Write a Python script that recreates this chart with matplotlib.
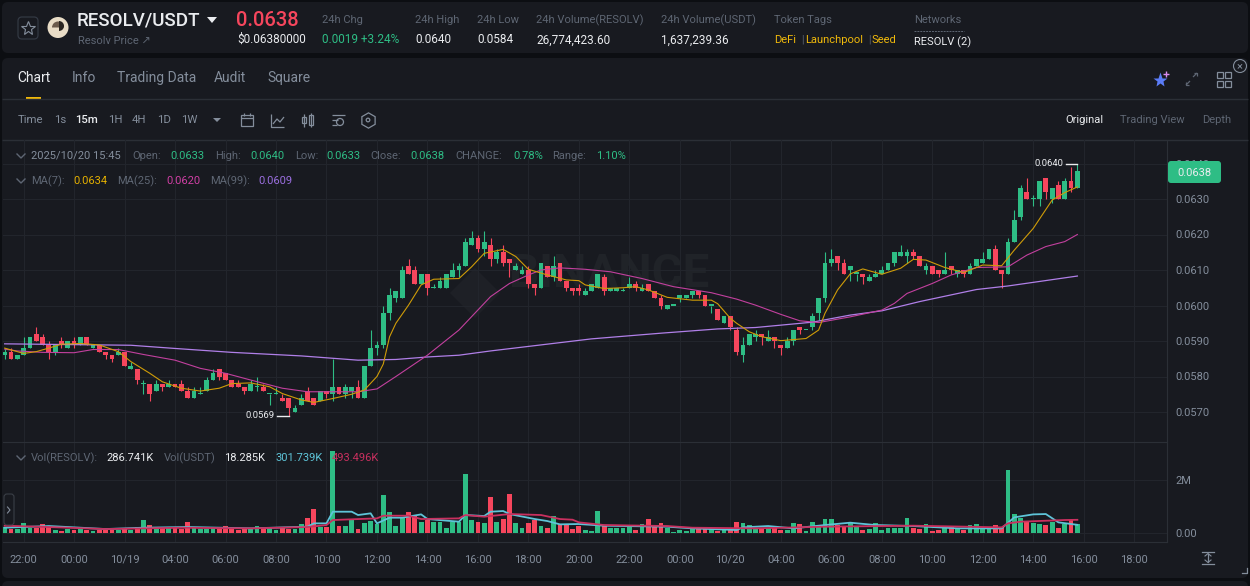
import numpy as np
import matplotlib
matplotlib.use("Agg")
import matplotlib.pyplot as plt
from matplotlib.patches import FancyBboxPatch, Rectangle, Circle, Polygon, Wedge

plt.rcParams['font.family'] = ['Roboto', 'DejaVu Sans']

# candles, price in units of 0.0001
opens = [586,587,585,586,588,592,591,589,587,590,588,590,589,591,588,589,587,586,586,587,
         582,582,578,578,576,578,577,578,578,576,574,575,576,579,582,581,579,578,577,576,
         577,577,575,575,574,574,570,572,576,574,573,576,575,577,575,576,577,574,583,588,
         589,598,602,602,611,610,606,609,605,605,605,608,610,611,617,619,616,617,613,615,
         613,610,609,610,606,605,611,608,612,607,605,605,603,604,605,608,604,604,604,605,
         606,604,606,604,602,599,600,602,602,603,604,603,600,599,595,597,593,586,589,591,
         592,590,591,589,588,590,594,593,594,598,602,612,614,612,610,609,609,607,608,609,
         610,612,614,614,615,614,610,611,610,609,611,609,610,609,611,612,613,616,610,609,
         618,625,632,630,630,636,630,634,630,635,633]
highs = [588,588,586,591,591,594,592,590,589,591,590,591,591,591,589,589,587,586,588,587,
         584,582,579,578,579,578,579,578,579,577,577,577,580,582,582,581,579,579,577,579,
         580,578,575,577,575,574,572,575,577,574,576,576,585,577,578,577,579,583,593,590,
         600,605,604,611,613,611,609,609,606,608,609,612,612,619,621,620,621,619,616,617,
         613,612,611,611,606,612,611,614,612,607,605,606,605,606,609,609,605,605,605,608,
         607,606,606,604,603,600,600,603,603,604,604,603,600,599,597,597,594,591,592,593,
         592,593,591,589,591,593,594,593,598,602,615,616,614,613,611,609,609,609,610,611,
         612,615,617,616,616,614,612,611,610,615,611,610,610,612,613,615,616,617,610,619,
         627,634,636,631,635,636,633,635,636,639,640]
lows = [585,585,585,586,588,590,589,585,586,588,588,588,589,589,588,587,585,584,586,583,
        582,578,575,573,576,576,577,577,576,574,574,575,576,579,579,579,577,577,575,576,
        576,576,572,575,573,569,570,572,573,572,573,574,573,575,574,574,574,574,583,586,
        588,596,601,602,609,606,606,603,605,605,605,608,608,611,617,615,614,611,612,611,
        608,610,609,605,603,605,608,607,607,604,603,603,603,604,605,603,604,604,604,605,
        604,604,604,602,599,599,600,601,602,602,602,600,598,596,595,593,586,584,589,590,
        589,590,588,586,588,589,592,593,593,596,601,611,610,609,607,607,606,607,608,609,
        610,611,614,612,613,611,609,609,608,609,609,608,608,609,611,612,613,610,605,609,
        618,624,630,628,628,630,629,630,630,632,633]
closes = [587,585,586,588,591,590,589,587,589,589,590,589,591,589,589,587,586,585,587,583,
          583,579,578,575,578,577,578,577,576,574,576,575,579,581,580,579,577,577,576,578,
          577,576,575,575,573,571,571,574,573,572,576,575,577,575,577,577,574,583,588,589,
          598,603,604,610,609,606,609,605,605,607,609,610,611,618,619,616,618,613,615,612,
          612,611,610,606,605,612,608,611,607,605,604,604,604,606,609,604,605,605,604,606,
          605,605,604,602,600,600,600,603,603,604,603,600,600,596,597,594,587,589,592,592,
          591,591,590,588,590,593,593,593,597,602,612,613,612,609,611,609,608,608,609,610,
          612,615,615,615,614,611,611,609,609,610,610,610,609,611,613,613,616,610,609,618,
          624,633,630,630,635,632,633,630,635,633,638]

# 15m volume per candle, thousands
volumes = [230,140,140,383,166,191,332,230,102,64,140,102,140,102,64,102,102,102,102,191,
           102,204,472,293,140,166,166,166,140,421,166,140,140,166,140,255,140,102,140,140,
           255,191,166,115,166,140,140,319,574,893,217,217,3124,242,255,472,140,357,446,319,
           1441,778,255,574,778,650,395,485,408,421,191,395,395,2244,485,421,383,1352,395,523,
           1492,357,166,357,485,255,191,638,319,319,140,255,102,77,829,255,166,166,166,230,
           115,319,523,217,370,191,38,102,77,166,140,140,128,77,128,140,395,370,293,166,
           191,191,166,115,115,370,319,77,421,204,510,510,293,255,357,230,102,140,357,115,
           166,166,191,574,191,140,319,77,115,166,255,140,89,293,319,166,166,293,217,2397,
           701,548,446,383,344,293,421,191,319,485,332]

# moving averages: candle number and value
ma7_idx = [0,3,5,7,9,12,15,18,20,23,25,28,31,34,36,39,42,44,47,49,52,55,57,59,60,61,62,64,66,68,
           72,74,76,79,81,83,86,89,91,92,95,98,100,102,105,109,112,113,115,116,118,120,123,
           127,129,130,132,134,136,139,142,144,146,149,152,155,158,160,163,166,168,170]
ma7_val = [588,586.5,587,588,589.1,589.3,588.9,587,584.2,580.9,578.5,576.7,575.9,576.7,578,578.2,
           577.1,575.2,573.4,572.7,573.8,575,576.2,580,583.5,591.2,595,600.1,605.8,607.4,
           607.6,610.9,614.7,615.8,613.8,610.2,608.6,607.2,607,605.8,604.8,605,605.3,604.4,
           602.3,601.5,601.5,600.5,596.4,595,592.6,591.2,590.1,590.7,593.1,597.8,604.4,608.9,
           610.3,608.8,610.5,613,612.8,610.7,609.3,611.4,611.2,615.6,621.7,629.7,631.8,633.4]
ma25_idx = [0,2,6,11,14,18,22,27,31,35,39,44,48,52,56,59,62,67,72,77,80,83,85,88,92,96,101,106,
            112,116,119,123,126,129,134,139,141,143,147,150,154,159,162,165,168,170]
ma25_val = [587.7,587.2,586.8,586.7,587.6,587.6,586.2,584.6,582.3,580.9,579,576.7,575.7,575.7,
            575.7,576.5,580,586,593.1,602.5,606.2,608.6,610,610.6,610.2,609.5,607.6,605.3,
            603.6,601.8,600.1,597.5,595.7,595.2,596.8,598.7,600.6,603.4,606.2,608.6,610.7,
            610.9,614.2,616.6,618,620]
ma99_idx = [0,10,20,27,36,47,56,62,67,72,77,85,93,104,113,119,128,134,139,145,154,159,170]
ma99_val = [589.2,589,588.8,587.9,586.8,585.8,584.6,584.8,585.5,586,587.2,588.9,590.6,592.2,593.4,
            593.8,595.3,597.3,598.5,601.1,604.5,605.5,608.3]

vol_ma1_idx = [0,7,16,22,29,39,48,49,51,52,55,56,58,59,61,63,66,67,72,73,76,77,79,80,84,86,88,91,95,
               105,109,116,117,121,125,130,134,138,144,151,158,160,163,165,167,170]
vol_ma1_val = [191,255,140,191,217,166,230,357,357,803,803,676,740,357,574,574,701,523,421,676,638,
               803,829,714,523,446,319,332,268,230,166,102,204,255,166,293,383,293,255,166,166,
               587,701,714,395,302]
vol_ma2_idx = [0,7,16,28,39,48,51,52,59,60,64,66,72,73,76,80,85,88,90,91,95,105,109,119,130,144,158,
               159,161,168,170]
vol_ma2_val = [268,217,140,191,166,217,293,485,548,650,650,523,548,676,612,714,676,523,497,395,293,
               255,191,166,230,268,204,357,421,485,493]

price_ticks = [640, 630, 620, 610, 600, 590, 580, 570]
vol_ticks = [0, 2000]
time_labels = ['22:00','00:00','10/19','04:00','06:00','08:00','10:00','12:00','14:00','16:00','18:00',
               '20:00','22:00','00:00','10/20','04:00','06:00','08:00','10:00','12:00','14:00','16:00','18:00']

tabs = [(17,'Chart','#eaecef'),(72,'Info','#848e9c'),(117,'Trading Data','#848e9c'),(214,'Audit','#848e9c'),(267,'Square','#848e9c')]
intervals = [(18,'Time','#848e9c'),(54,'1s','#848e9c'),(75,'15m','#eaecef'),(108,'1H','#848e9c'),(132,'4H','#848e9c'),(157,'1D','#848e9c'),(181,'1W','#848e9c')]

W, H = 1250, 586
BG = '#0c0e12'
PANEL = '#181a20'
GRID = '#22252c'
GREY = '#848e9c'
DIM = '#5e6673'
WHITE = '#eaecef'
GREEN = '#2ebd85'
RED = '#f6465d'
YELLOW = '#f0b90b'

fig = plt.figure(figsize=(W/100, H/100), dpi=100, facecolor=BG)


def px_axes(x0, y0, x1, y1):
    return fig.add_axes([x0/W, 1-y1/H, (x1-x0)/W, (y1-y0)/H])


ui = px_axes(0, 0, W, H)
ui.set_xlim(0, W)
ui.set_ylim(H, 0)
ui.axis('off')

top = px_axes(0, 0, W, H)
top.set_xlim(0, W)
top.set_ylim(H, 0)
top.axis('off')
top.patch.set_alpha(0)
top.set_zorder(10)


def t(x, y, s, c=GREY, size=8, **kw):
    kw.setdefault('va', 'center')
    top.text(x, y+0.8, s, color=c, fontsize=size, **kw)


def panel(x0, y0, x1, y1):
    ui.add_patch(FancyBboxPatch((x0+5, y0+5), x1-x0-10, y1-y0-10, boxstyle='round,pad=5,rounding_size=6',
                                fc=PANEL, ec='none'))


def seg(xs, ys, c=GREY, lw=0.9):
    ui.plot(xs, ys, color=c, lw=lw, solid_capstyle='butt')


panel(2, 2, 1248, 53)
panel(2, 58, 1248, 578)
panel(2, 581, 1248, 600)

# top bar
ui.add_patch(FancyBboxPatch((18, 17), 20, 22, boxstyle='round,pad=0,rounding_size=4', fc='none', ec='#333943', lw=0.9))
ui.plot([28], [28], marker='*', ms=10, mfc='none', mec=GREY, mew=0.8)
ui.add_patch(Circle((58, 27.5), 10.5, fc='#e8dcc6', ec='none'))
ui.add_patch(Wedge((58, 27.5), 6, 180, 360, fc='#6b5a4c', ec='none'))
ui.add_patch(Wedge((59, 26), 5, 270, 90, fc='#2a2520', ec='none'))
t(77, 20, 'RESOLV/USDT', WHITE, 13.5, fontweight='medium')
ui.add_patch(Polygon([[207, 17], [217, 17], [212, 23]], fc=WHITE, ec='none'))
t(78, 40, 'Resolv Price \u2197', DIM, 8)
t(236, 20, '0.0638', RED, 14.5, fontweight='medium')
t(237, 39, '$0.06380000', WHITE, 8.5)
t(322, 19, '24h Chg', DIM, 8)
t(322, 39, '0.0019 +3.24%', GREEN, 8.5)
t(415, 19, '24h High', DIM, 8)
t(415, 39, '0.0640', WHITE, 8.5)
t(477, 19, '24h Low', DIM, 8)
t(477, 39, '0.0584', WHITE, 8.5)
t(536, 19, '24h Volume(RESOLV)', DIM, 8)
t(536, 39, '26,774,423.60', WHITE, 8.5)
t(661, 19, '24h Volume(USDT)', DIM, 8)
t(661, 39, '1,637,239.36', WHITE, 8.5)
t(774, 19, 'Token Tags', DIM, 8)
t(774, 39, 'DeFi', YELLOW, 8)
t(801, 39, '|', DIM, 7)
t(805, 39, 'Launchpool', YELLOW, 8)
t(868, 39, '|', DIM, 7)
t(872, 39, 'Seed', YELLOW, 8)
t(914, 19, 'Networks', DIM, 8)
ui.plot([914, 964], [31, 31], color=DIM, lw=0.7, ls=(0, (2, 1)))
t(914, 41, 'RESOLV (2)', WHITE, 8)

# tabs
for x, label, c in tabs:
    t(x, 77, label, c, 10)
ui.add_patch(Rectangle((26, 96.5), 15, 2.5, fc=YELLOW, ec='none'))
seg([2, 1248], [99, 99], '#2b2f36', 1)
seg([2, 1248], [139.5, 139.5], '#2b2f36', 1)

# interval toolbar
for x, label, c in intervals:
    t(x, 119, label, c, 8.2, fontweight='medium' if label == '15m' else 'normal')
ui.add_patch(Polygon([[213, 118], [221, 118], [217, 122]], fc=GREY, ec='none'))
ui.add_patch(Rectangle((241, 115), 12, 11, fc='none', ec=GREY, lw=0.9))
seg([241, 253], [118, 118])
seg([244, 244], [113, 116])
seg([250, 250], [113, 116])
seg([271, 271, 284], [114, 127, 127])
seg([273, 277, 280, 284], [124, 119, 122, 117])
ui.add_patch(Rectangle((302, 117), 4, 6, fc='none', ec=GREY, lw=0.9))
ui.add_patch(Rectangle((309, 115), 4, 10, fc='none', ec=GREY, lw=0.9))
seg([304, 304], [114, 127])
seg([311, 311], [113, 127])
seg([332, 345], [115, 115])
seg([332, 338], [120, 120])
seg([332, 337], [125, 125])
ui.add_patch(Circle((340, 122), 3.5, fc='none', ec=GREY, lw=0.9))
ui.plot([368], [120], marker='h', ms=11, mfc='none', mec=GREY, mew=0.9)
ui.add_patch(Circle((368, 120), 1.8, fc='none', ec=GREY, lw=0.9))
t(1065, 119, 'Original', WHITE, 8)
t(1120, 119, 'Trading View', DIM, 8)
t(1202, 119, 'Depth', DIM, 8)

# top right icons
ui.plot([1160], [80], marker='*', ms=11, color='#5b7cf7', mec='none')
ui.plot([1166], [74], marker='+', ms=4, color='#d98cf0', mew=1)
seg([1186, 1190], [85, 81], DIM, 0.9)
seg([1186, 1186, 1189], [82, 85, 85], DIM, 0.9)
seg([1193, 1197], [77, 73], DIM, 0.9)
seg([1194, 1197, 1197], [73, 73, 76], DIM, 0.9)
for bx, by in [(1217, 72), (1225, 72), (1217, 81), (1225, 81)]:
    ui.add_patch(Rectangle((bx, by), 6, 6, fc='none', ec=GREY, lw=0.9))
ui.add_patch(Circle((1240, 66), 6.5, fc='none', ec=GREY, lw=0.8))
t(1240, 65, '\u00d7', GREY, 8, ha='center')

# legends
t(31, 155, '2025/10/20 15:45', GREY, 8)
for x, s, c in [(132, 'Open:', DIM), (170, '0.0633', GREEN), (215, 'High:', DIM), (250, '0.0640', GREEN),
                (295, 'Low:', DIM), (326, '0.0633', GREEN), (370, 'Close:', DIM), (410, '0.0638', GREEN),
                (455, 'CHANGE:', DIM), (513, '0.78%', GREEN), (552, 'Range:', DIM), (596, '1.10%', GREEN)]:
    t(x, 155, s, c, 8)
for x, s, c in [(31, 'MA(7):', DIM), (73, '0.0634', '#e5b000'), (117, 'MA(25):', DIM), (166, '0.0620', '#d13fa5'),
                (210, 'MA(99):', DIM), (258, '0.0609', '#9b6fe0')]:
    t(x, 180, s, c, 8)
for x, s, c in [(31, 'Vol(RESOLV):', DIM), (106, '286.741K', WHITE), (164, 'Vol(USDT)', DIM), (224, '18.285K', WHITE),
                (275, '301.739K', '#5ec4d8'), (332, '493.496K', '#c9305f')]:
    t(x, 457, s, c, 8)
for cy in (156, 181, 458):
    top.plot([17, 21, 25], [cy-2, cy+2, cy-2], color=DIM, lw=1)

# chart axes in candle number / price
XMIN, XMAX = (3-4.67)/6.31, (1167-4.67)/6.31
ax = px_axes(3, 140, 1167, 442)
vx = px_axes(3, 443, 1167, 542)
for a in (ax, vx):
    a.patch.set_alpha(0)
    a.set_xlim(XMIN, XMAX)
    a.yaxis.tick_right()
    a.grid(True, color=GRID, lw=0.8)
    a.set_axisbelow(True)
    for sp in a.spines.values():
        sp.set_visible(False)
    a.spines['right'].set_visible(True)
    a.spines['right'].set_color('#2b2f36')
    a.spines['bottom'].set_visible(True)
    a.spines['bottom'].set_color('#2b2f36')
    a.set_xticks(np.arange(3, 3+8*len(time_labels), 8))
    a.tick_params(length=0, colors=GREY, labelsize=8)

idx = np.arange(len(opens))
o = np.array(opens)/1e4
h = np.array(highs)/1e4
l = np.array(lows)/1e4
c = np.array(closes)/1e4
up = c >= o
colors = np.where(up, GREEN, RED)

ax.set_ylim(0.0630-(442-199)/35500, 0.0630-(140-199)/35500)
ax.set_yticks(np.array(price_ticks)/1e4)
ax.set_yticklabels(['%.4f' % (p/1e4) for p in price_ticks])
ax.tick_params(axis='y', pad=6)
ax.tick_params(axis='x', labelbottom=False)

# watermark
ax.text(80, 0.0609, 'BINANCE', color='#202328', fontsize=34, fontweight='bold', va='center', zorder=0.5)
ui.add_patch(Polygon([[475, 268], [500, 293], [475, 318], [450, 293]], fc='#1e2026', ec='none'))

ax.vlines(idx, l, h, colors=colors, lw=0.8, zorder=2)
body = np.maximum(np.abs(c-o), 0.00003)
ax.bar(idx, body, bottom=np.minimum(o, c), width=0.76, color=colors, zorder=3)
ax.plot(ma99_idx, np.array(ma99_val)/1e4, color='#b07fe8', lw=0.9, zorder=4)
ax.plot(ma25_idx, np.array(ma25_val)/1e4, color='#c2409e', lw=0.8, zorder=4)
ax.plot(ma7_idx, np.array(ma7_val)/1e4, color='#cf9c08', lw=0.8, zorder=5)

# high / low labels
ax.annotate('0.0640', xy=(170, 0.0640), xytext=(-43, 0), textcoords='offset pixels', color=WHITE, fontsize=6.8,
            ha='left', va='center')
ax.annotate('0.0569', xy=(45, 0.0569), xytext=(-43, 0), textcoords='offset pixels', color=WHITE, fontsize=6.8,
            ha='left', va='center')
ax.plot([168.2, 170], [0.0640, 0.0640], color=WHITE, lw=1)
ax.plot([43.2, 45], [0.0569, 0.0569], color=WHITE, lw=1)

vx.set_ylim(-(542-532.7)*38.25, (532.7-443)*38.25)
vx.bar(idx, volumes, width=0.76, color=colors, zorder=3)
vx.plot(vol_ma1_idx, vol_ma1_val, color='#5ec4d8', lw=1.3, zorder=4)
vx.plot(vol_ma2_idx, vol_ma2_val, color='#c9305f', lw=1.3, zorder=5)
vx.set_yticks(vol_ticks)
vx.set_yticklabels(['0.00', '2M'])
plt.setp(vx.get_yticklabels(), va='center_baseline')
vx.set_xticklabels(time_labels)
plt.setp(vx.get_xticklabels(), va='baseline')
vx.tick_params(axis='y', pad=6)
vx.tick_params(axis='x', pad=15)

# last price tag
top.add_patch(FancyBboxPatch((1168, 161), 53, 22, boxstyle='round,pad=0,rounding_size=3', fc=GREEN, ec='none'))
top.text(1194.5, 173, '0.0638', color=WHITE, fontsize=8, ha='center', va='center')
# collapse button and scale icon
top.add_patch(FancyBboxPatch((4, 494), 10, 31, boxstyle='round,pad=0,rounding_size=3', fc=PANEL, ec='#3a3f47', lw=0.8))
top.plot([7.5, 10, 7.5], [507, 510, 513], color=GREY, lw=0.8)
top.plot([1202, 1214], [552, 552], color=GREY, lw=0.9)
top.plot([1202, 1214], [564, 564], color=GREY, lw=0.9)
top.plot([1208, 1208], [554, 562], color=GREY, lw=0.9)
top.plot([1205, 1208, 1211], [556, 553.5, 556], color=GREY, lw=0.8)
top.plot([1205, 1208, 1211], [560, 562.5, 560], color=GREY, lw=0.8)
top.plot([1242, 1247, 1247], [573, 573, 568], color=GREY, lw=0.9)

fig.savefig('out.png', dpi=100, facecolor=BG)
